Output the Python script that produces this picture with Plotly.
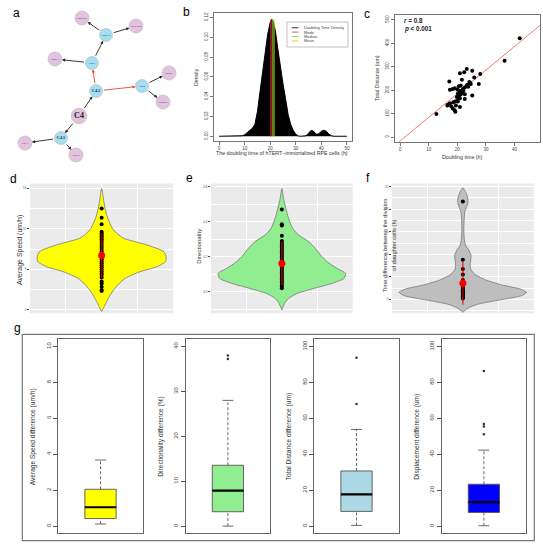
import plotly.graph_objects as go

W, H = 543, 550
FONT = "Liberation Sans"

# ---- a: lineage tree of cell C4 (layout positions)
node_names = ["C4", "C4.1", "C4.2", "C4.1.1", "C4.1.2", "C4.2.1", "C4.2.2",
              "C4.2.1.1", "C4.2.1.2", "C4.2.1.2.1", "C4.2.1.2.2", "C4.2.2.1", "C4.2.2.2"]
node_x = [79, 61, 96, 25, 76, 92, 142, 55, 106, 82, 136, 169, 163]
node_y = [116, 138, 91, 143, 155, 63, 86, 59, 35, 18, 26, 73, 102]
blue_nodes = ["C4.1", "C4.2", "C4.2.1", "C4.2.2", "C4.2.1.2"]
edge_from = ["C4", "C4", "C4.1", "C4.1", "C4.2", "C4.2",
             "C4.2.1", "C4.2.1", "C4.2.1.2", "C4.2.1.2", "C4.2.2", "C4.2.2"]
edge_to = ["C4.1", "C4.2", "C4.1.1", "C4.1.2", "C4.2.1", "C4.2.2",
           "C4.2.1.1", "C4.2.1.2", "C4.2.1.2.1", "C4.2.1.2.2", "C4.2.2.1", "C4.2.2.2"]
red_parent = "C4.2"

# ---- b: doubling time density
dens_x = [0, 8, 9, 10, 11, 12, 13, 14, 15, 16, 17, 18, 19, 20, 20.5, 21, 22, 23, 24, 25,
          26, 27, 28, 29, 30, 31, 32, 34, 35, 36, 37, 38, 39, 40, 41, 42, 43, 44, 45, 50]
dens_y = [0, 0, 0.0005, 0.0015, 0.004, 0.006, 0.008, 0.012, 0.025, 0.045, 0.064, 0.084,
          0.103, 0.115, 0.118, 0.117, 0.107, 0.088, 0.068, 0.053, 0.038, 0.022, 0.012,
          0.006, 0.002, 0.0003, 0, 0.0005, 0.003, 0.006, 0.005, 0.002, 0.0025, 0.005,
          0.006, 0.005, 0.002, 0.0005, 0, 0]
stat_names = ["Mode", "Median", "Mean"]
stat_vals = [20.3, 21.0, 21.5]
stat_colors = ["#FF3030", "#33DD33", "#FFB000"]
legend_names = ["Doubling Time Density"] + stat_names
legend_colors = ["#555555", "#FF7070", "#70EE70", "#FFC850"]

# ---- c: doubling time vs total distance
doubling = [41.8, 36.5, 28.0, 23.3, 25.2, 22.4, 20.9, 25.9, 17.2, 21.6, 24.2, 24.7, 23.5,
            27.5, 21.2, 20.5, 22.6, 19.1, 18.4, 17.4, 20.0, 21.9, 23.2, 20.2, 21.2, 22.6,
            25.2, 19.8, 20.9, 22.6, 20.0, 19.3, 17.4, 16.7, 16.5, 17.9, 20.9, 18.4, 19.1,
            19.3, 12.7, 20.2, 21.6, 18.6, 22.1, 23.8, 24.5, 20.7, 19.5, 20.5]
distance = [421, 325, 269, 290, 282, 276, 272, 254, 237, 244, 234, 226, 223, 226, 220, 216,
            211, 208, 205, 201, 203, 205, 217, 185, 182, 182, 177, 171, 165, 162, 155, 151,
            144, 138, 134, 131, 128, 122, 114, 108, 98, 151, 191, 148, 197, 214, 231, 197,
            134, 174]
fit_intercept, fit_slope = -17.0, 10.08

# ---- d-f: violins (y grid, relative half-width), cell dots, mean and sd
speed_vy = [16.0, 15.01, 14.03, 13.04, 12.05, 11.56, 11.07, 10.41, 9.75, 9.26, 8.77, 8.27,
            7.78, 7.12, 6.47, 5.81, 5.15, 4.49, 3.84]
speed_vw = [0, 0.026, 0.052, 0.094, 0.167, 0.234, 0.339, 0.703, 0.964, 1, 0.99, 0.859,
            0.599, 0.365, 0.25, 0.167, 0.104, 0.052, 0]
speed_dots = [14.0, 13.1, 12.45, 11.7, 11.55, 11.4, 11.25, 11.1, 10.95, 10.8, 10.6, 10.4,
              10.2, 10.0, 9.8, 9.6, 9.4, 9.2, 9.0, 8.8, 8.6, 8.4, 8.2, 8.0, 7.8, 7.6, 7.45,
              7.2, 6.8, 6.6, 6.3, 5.97, 5.88]
speed_mean, speed_sd = 9.36, 2.2

dir_vy = [0.590, 0.533, 0.476, 0.419, 0.362, 0.324, 0.286, 0.248, 0.210, 0.171, 0.133,
          0.105, 0.076, 0.048, 0.019, -0.010, -0.038, -0.067, -0.105]
dir_vw = [0, 0.026, 0.063, 0.105, 0.168, 0.263, 0.421, 0.526, 0.605, 0.711, 0.868, 1.0,
          0.974, 0.789, 0.5, 0.237, 0.105, 0.042, 0]
dir_dots = [0.47, 0.385, 0.378, 0.32, 0.29, 0.28, 0.27, 0.26, 0.25, 0.24, 0.23, 0.22, 0.21,
            0.2, 0.19, 0.18, 0.17, 0.16, 0.15, 0.14, 0.13, 0.12, 0.11, 0.1, 0.09, 0.08,
            0.07, 0.06, 0.05, 0.04, 0.03, 0.02]
dir_mean, dir_sd = 0.162, 0.125

tdiff_vy = [24.78, 23.9, 22.8, 21.7, 20.6, 19.45, 17.97, 15.75, 13.54, 12.06, 10.95, 9.84,
            8.73, 7.62, 6.51, 5.4, 4.29, 3.18, 2.3, 1.55, 0.82, -0.18, -1.1, -2.0, -2.9]
tdiff_vw = [0, 0.041, 0.072, 0.082, 0.062, 0.031, 0.021, 0.015, 0.021, 0.041, 0.092, 0.128,
            0.123, 0.113, 0.128, 0.205, 0.359, 0.615, 0.897, 1.0, 0.923, 0.564, 0.231,
            0.077, 0]
tdiff_dots = [21.7, 8.8, 6.7, 5.5, 4.3, 3.2, 2.6, 2.3, 2.0, 1.8, 1.6, 1.4, 1.2, 1.0, 0.8,
              0.6, 0.4, 0.2]
tdiff_mean, tdiff_sd = 3.55, 4.75

# ---- g: differences between daughter cells (boxplot stats)
g_titles = ["Average Speed difference (um/h)", "Directionality difference (%)",
            "Total Distance difference (um)", "Displacement difference (um)"]
g_colors = ["#FFFF00", "#90EE90", "#ADD8E6", "#0000FF"]
g_q1 = [0.42, 3.2, 8.2, 7.6]
g_med = [1.05, 7.9, 17.7, 13.4]
g_q3 = [2.05, 13.55, 30.7, 23.3]
g_lo = [0.12, 0.0, 0.4, 0.2]
g_hi = [3.68, 28.0, 53.8, 42.3]
g_out = [[], [37.2, 38.0], [68.0, 93.7], [51.2, 55.5, 56.8, 86.4]]
g_ymax = [10, 40, 100, 100]
g_ticks = [[0, 2, 4, 6, 8, 10], [0, 10, 20, 30, 40],
           [0, 20, 40, 60, 80, 100], [0, 20, 40, 60, 80, 100]]


def dom_x(x0, x1):
    return [x0 / W, x1 / W]


def dom_y(y0, y1):
    return [1 - y1 / H, 1 - y0 / H]


def px(x, y):
    return x / W, 1 - y / H


fig = go.Figure()
axes = {}
annotations = []
shapes = []


def add_axes(n, xr, yr, xrange, yrange, xkw=None, ykw=None):
    s = "" if n == 1 else str(n)
    axes["xaxis" + s] = dict(domain=dom_x(*xr), range=xrange, anchor="y" + s, **(xkw or {}))
    axes["yaxis" + s] = dict(domain=dom_y(*yr), range=yrange, anchor="x" + s, **(ykw or {}))
    return "x" + s, "y" + s


def label(text, x, y, size, angle=0, color="#333", anchor="center", **kw):
    lx, ly = px(x, y)
    annotations.append(dict(text=text, x=lx, y=ly, xref="paper", yref="paper", showarrow=False,
                            textangle=angle, xanchor=anchor, yanchor="middle",
                            font=dict(family=FONT, size=size, color=color), **kw))


def r_axis(ticks, size=4.5, rotate=False, **kw):
    d = dict(tickmode="array", tickvals=ticks, showline=True, mirror=True, linecolor="#777",
             linewidth=0.8, ticks="outside", ticklen=3, tickwidth=0.6, tickcolor="#777",
             showgrid=False, zeroline=False, tickfont=dict(family=FONT, size=size, color="#444"))
    if rotate:
        d["tickangle"] = -90
    d.update(kw)
    return d


hidden = dict(visible=False)

# ---------------- a
xa, ya = add_axes(1, (0, 181), (0, 165), [0, 181], [165, 0], hidden, hidden)
sizes, colors, tsizes, texts = [], [], [], []
for name in node_names:
    if name == "C4":
        sizes.append(15.5); colors.append("#D6A9D1"); tsizes.append(8); texts.append("<b>C4</b>")
    elif name in blue_nodes:
        sizes.append(13); colors.append("#80D0EE")
        if name.count(".") == 1:
            tsizes.append(4.2); texts.append("<b>" + name + "</b>")
        else:
            tsizes.append(2.4); texts.append(name)
    else:
        sizes.append(14); colors.append("#D6A9D1"); tsizes.append(2.4); texts.append(name)
radius = {n: s / 2 for n, s in zip(node_names, sizes)}
pos = {n: (x, y) for n, x, y in zip(node_names, node_x, node_y)}
for a, b in zip(edge_from, edge_to):
    col = "#E8452C" if a == red_parent else "#222222"
    annotations.append(dict(x=pos[b][0], y=pos[b][1], ax=pos[a][0], ay=pos[a][1],
                            xref=xa, yref=ya, axref=xa, ayref=ya, text="", showarrow=True,
                            arrowhead=2, arrowsize=0.7, arrowwidth=0.9, arrowcolor=col,
                            standoff=radius[b], startstandoff=radius[a]))
fig.add_trace(go.Scatter(x=node_x, y=node_y, mode="markers+text", xaxis=xa, yaxis=ya,
                         marker=dict(size=sizes, color=colors, line=dict(color="#9a9a9a", width=0.6)),
                         text=texts, textposition="middle center",
                         textfont=dict(family="Liberation Serif", size=tsizes, color="#222"),
                         hoverinfo="skip"))

# ---------------- b
xb, yb = add_axes(2, (214, 352), (12.7, 141), [-2, 52], [-0.0048, 0.1248],
                  r_axis([0, 10, 20, 30, 40, 50]),
                  r_axis([0, 0.02, 0.04, 0.06, 0.08, 0.1, 0.12], rotate=True, tickformat=".2f"))
fig.add_trace(go.Scatter(x=dens_x, y=dens_y, xaxis=xb, yaxis=yb, mode="lines", fill="tozeroy",
                         fillcolor="black", line=dict(color="black", width=1)))
peak = max(dens_y)
for v, c in zip(stat_vals, stat_colors):
    fig.add_trace(go.Scatter(x=[v, v], y=[0, peak], xaxis=xb, yaxis=yb, mode="lines",
                             line=dict(color=c, width=1)))
x0, y1 = px(287, 22)
x1, y0 = px(348, 47)
shapes.append(dict(type="rect", xref="paper", yref="paper", x0=x0, x1=x1, y0=y0, y1=y1,
                   line=dict(color="#999", width=0.6), fillcolor="white"))
for i, (nm, c) in enumerate(zip(legend_names, legend_colors)):
    ry = 27.7 + i * 4.4
    lx0, ly = px(291.7, ry)
    lx1, _ = px(298.3, ry)
    shapes.append(dict(type="line", xref="paper", yref="paper", x0=lx0, x1=lx1, y0=ly, y1=ly,
                       line=dict(color=c, width=1.2)))
    label(nm, 301.7, ry, 4.0, anchor="left", color="#444")
label("Density", 196, 77, 5.2, angle=-90)
label("The doubling time of hTERT\u2212immortalized RPE cells (h)", 282, 153.3, 5.3)

# ---------------- c
xc, yc = add_axes(3, (394.7, 540), (15, 141.7), [-1.88, 48.88], [-20, 520],
                  r_axis([0, 10, 20, 30, 40]),
                  r_axis([0, 100, 200, 300, 400, 500], rotate=True))
line_x = [-1.88, 48.88]
fig.add_trace(go.Scatter(x=line_x, y=[fit_intercept + fit_slope * v for v in line_x],
                         xaxis=xc, yaxis=yc, mode="lines", line=dict(color="#F27A7A", width=1)))
fig.add_trace(go.Scatter(x=doubling, y=distance, xaxis=xc, yaxis=yc, mode="markers",
                         marker=dict(size=4, color="black")))
label("<b><i>r</i> = 0.8</b>", 402, 20, 6.3, anchor="left", color="#222")
label("<b><i>p</i> &lt; 0.001</b>", 402, 29, 6.3, anchor="left", color="#222")
label("Total Distance (um)", 377, 78, 5.3, angle=-90)
label("Doubling time (h)", 462, 156.7, 5.3)


# ---------------- d, e, f
def gg_y(dtick, fmt=None):
    d = dict(tickmode="linear", tick0=0, dtick=dtick, showgrid=True, gridcolor="white",
             gridwidth=0.9, zeroline=False, ticks="outside", ticklen=2, tickwidth=0.5,
             tickcolor="#444", tickfont=dict(family=FONT, size=3, color="#4D4D4D"),
             minor=dict(tick0=0, dtick=dtick / 2, showgrid=True, gridcolor="white",
                        gridwidth=0.4, ticks=""))
    if fmt:
        d["tickformat"] = fmt
    return d


gg_x = dict(tickmode="array", tickvals=[0.75, 1, 1.25], showticklabels=False, ticks="",
            showgrid=True, gridcolor="white", gridwidth=0.8, zeroline=False)

violins = [
    (4, (30, 173.3), [3.67, 16.47], 4, None, speed_vy, speed_vw, speed_dots, speed_mean, speed_sd, "#FFFF00"),
    (5, (211, 352.7), [-0.123, 0.618], 0.2, ".1f", dir_vy, dir_vw, dir_dots, dir_mean, dir_sd, "#90EE90"),
    (6, (392, 533.7), [-3.11, 25.71], 5, None, tdiff_vy, tdiff_vw, tdiff_dots, tdiff_mean, tdiff_sd, "#BEBEBE"),
]
for n, xr, yrange, dtick, fmt, vy, vw, dots, mean, sd, fill in violins:
    xv, yv = add_axes(n, xr, (183.5, 313.3), [0.5, 1.5], yrange, gg_x, gg_y(dtick, fmt))
    shapes.append(dict(type="rect", xref=xv + " domain", yref=yv + " domain", x0=0, x1=1,
                       y0=0, y1=1, fillcolor="#EBEBEB", line=dict(width=0), layer="below"))
    vx = [1 + 0.45 * w for w in vw] + [1 - 0.45 * w for w in reversed(vw)]
    vyy = list(vy) + list(reversed(vy))
    fig.add_trace(go.Scatter(x=vx, y=vyy, xaxis=xv, yaxis=yv, mode="lines", fill="toself",
                             fillcolor=fill, line=dict(color="#777", width=0.8, shape="spline",
                                                        smoothing=0.6)))
    fig.add_trace(go.Scatter(x=[1] * len(dots), y=dots, xaxis=xv, yaxis=yv, mode="markers",
                             marker=dict(size=4, color="black")))
    fig.add_trace(go.Scatter(x=[1, 1], y=[mean - sd, mean + sd], xaxis=xv, yaxis=yv,
                             mode="lines", line=dict(color="rgba(230,0,0,0.75)", width=1.4)))
    fig.add_trace(go.Scatter(x=[1], y=[mean], xaxis=xv, yaxis=yv, mode="markers",
                             marker=dict(size=7, color="red")))
label("Average Speed (um/h)", 20, 250, 7, angle=-90)
label("Directionality", 197.7, 246, 6.1, angle=-90)
label("Time difference between the division", 385.3, 245, 5.8, angle=-90)
label("of daughter cells (h)", 393.7, 245, 5.8, angle=-90)

# ---------------- g
x0, y1 = px(22.3, 334.3)
x1, y0 = px(534.3, 540.7)
shapes.append(dict(type="rect", xref="paper", yref="paper", x0=x0, x1=x1, y0=y0, y1=y1,
                   line=dict(color="#777", width=1.2)))
g_left = [58.3, 185.7, 314.3, 441.7]
for i in range(4):
    ymax = g_ymax[i]
    xg, yg = add_axes(7 + i, (g_left[i], g_left[i] + 84.4), (339.3, 533.3), [0.46, 1.54],
                      [-0.04 * ymax, 1.04 * ymax],
                      dict(showline=True, mirror=True, linecolor="#666", linewidth=0.8,
                           showticklabels=False, ticks="", showgrid=False, zeroline=False),
                      r_axis(g_ticks[i], size=6, rotate=True, linecolor="#666", ticklen=4,
                             tickcolor="#555"))
    q1, med, q3, lo, hi = g_q1[i], g_med[i], g_q3[i], g_lo[i], g_hi[i]
    for ya0, ya1 in ((q3, hi), (lo, q1)):
        fig.add_trace(go.Scatter(x=[1, 1], y=[ya0, ya1], xaxis=xg, yaxis=yg, mode="lines",
                                 line=dict(color="#444", width=0.8, dash="3px,2px")))
    for v in (lo, hi):
        fig.add_trace(go.Scatter(x=[0.93, 1.07], y=[v, v], xaxis=xg, yaxis=yg, mode="lines",
                                 line=dict(color="#444", width=0.8)))
    fig.add_trace(go.Scatter(x=[0.8, 1.2, 1.2, 0.8, 0.8], y=[q1, q1, q3, q3, q1], xaxis=xg,
                             yaxis=yg, mode="lines", fill="toself", fillcolor=g_colors[i],
                             line=dict(color="#555", width=0.9)))
    fig.add_trace(go.Scatter(x=[0.8, 1.2], y=[med, med], xaxis=xg, yaxis=yg, mode="lines",
                             line=dict(color="black", width=2.2)))
    if g_out[i]:
        fig.add_trace(go.Scatter(x=[1] * len(g_out[i]), y=g_out[i], xaxis=xg, yaxis=yg,
                                 mode="markers", marker=dict(size=2.5, color="#333")))
    label(g_titles[i], g_left[i] - 24.5, 436.5, 6.6, angle=-90)

# panel letters
for t, lx, ly in [("a", 16, 13), ("b", 186, 12), ("c", 367, 14), ("d", 13, 179),
                  ("e", 189, 178), ("f", 368, 178), ("g", 17, 328)]:
    label(t, lx, ly, 12, color="black")

fig.update_traces(showlegend=False, hoverinfo="skip")
fig.update_layout(width=W, height=H, margin=dict(l=0, r=0, t=0, b=0), autosize=False,
                  paper_bgcolor="white", plot_bgcolor="white", showlegend=False,
                  annotations=annotations, shapes=shapes, **axes)
# the page's default 8px body margin would shift the whole figure
fig.write_html("out.html", config={"displayModeBar": False},
               post_script="document.body.style.margin='0';")
